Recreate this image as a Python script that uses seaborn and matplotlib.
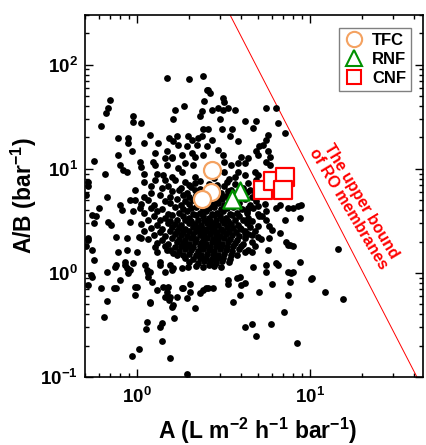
import numpy as np
import pandas as pd
import matplotlib
matplotlib.use("Agg")
import matplotlib.pyplot as plt
import seaborn as sns
from matplotlib.lines import Line2D
from matplotlib.ticker import LogLocator, FuncFormatter, NullFormatter

sns.set_style("ticks")
plt.rcParams["font.family"] = ["Liberation Sans", "DejaVu Sans"]
plt.rcParams["mathtext.fontset"] = "custom"
plt.rcParams["mathtext.rm"] = "Liberation Sans:bold"
plt.rcParams["mathtext.bf"] = "Liberation Sans:bold"
plt.rcParams["mathtext.it"] = "Liberation Sans:bold"
plt.rcParams["mathtext.default"] = "bf"
plt.rcParams["text.color"] = "black"
plt.rcParams["axes.labelcolor"] = "black"
plt.rcParams["xtick.color"] = "black"
plt.rcParams["ytick.color"] = "black"

# ---------------- data (A in L m-2 h-1 bar-1, A/B in bar-1) ----------------
upper_pts = [(1.48, 75), (2.0, 73), (2.4, 78), (2.53, 57), (2.45, 45), (0.70, 46), (0.68, 38), (0.66, 34),
             (1.66, 37), (1.88, 40), (1.62, 30), (0.95, 32), (0.95, 28), (0.62, 26), (2.36, 35.5), (2.3, 32),
             (2.42, 24), (1.19, 21), (0.78, 19.7), (0.89, 19.7), (0.89, 17.7), (1.09, 17.7), (1.33, 17.7),
             (1.52, 19.7), (1.70, 20.5), (1.62, 18.3), (1.73, 17), (1.98, 20.5), (2.07, 19), (2.26, 19.7),
             (2.36, 20.5), (1.94, 16.4), (2.21, 17), (0.78, 13.6), (0.93, 14.7), (1.27, 14.2), (1.48, 14.7),
             (1.59, 13.1), (1.45, 12.7), (1.81, 13.6), (2.07, 14.2), (2.16, 13.1), (2.42, 13.6), (0.56, 11.9),
             (0.80, 10.9), (0.83, 9.8), (1.04, 11.7), (1.06, 10.5), (1.24, 11.7), (1.27, 10.9), (1.48, 10.9),
             (1.59, 12.7), (1.73, 10.2), (1.81, 9.4), (1.89, 11.3), (2.11, 10.9), (0.65, 9.0), (0.87, 9.4),
             (1.09, 8.9), (1.30, 8.9), (1.42, 8.7), (2.16, 8.4), (0.52, 7.4), (1.06, 27.5)]

right_pts = [(2.58, 57), (2.64, 53), (3.15, 48), (3.2, 44), (2.70, 37), (2.95, 38), (3.15, 37), (3.37, 38),
             (3.68, 37), (3.02, 30), (5.6, 38), (6.4, 38), (4.2, 28.5), (4.9, 28.5), (4.7, 24.6), (6.5, 27.5),
             (2.58, 24), (3.09, 24), (3.52, 24), (3.45, 20.5), (7.2, 22), (5.75, 21), (5.6, 19), (5.35, 17),
             (5.1, 16.4), (2.7, 19), (2.53, 16.4), (3.85, 18.3), (5.75, 14.7), (5.9, 13.1), (5.6, 11.7),
             (5.9, 10.9), (4.9, 14.7), (5.0, 13.6), (4.0, 13.1), (4.4, 12.7), (3.85, 11.3), (4.2, 11.3),
             (2.95, 15), (3.15, 13.6), (3.2, 11.7), (3.5, 10.9), (4.8, 9.4), (5.0, 8.7), (3.85, 9.4),
             (4.2, 8.7), (3.7, 8.4), (3.2, 9.4)]

band_pts = [(1.09, 7.5), (1.27, 7.8), (1.45, 7.8), (1.66, 7.8), (1.89, 7.5), (2.16, 7.3), (1.2, 6.8),
            (1.5, 6.9), (1.8, 6.6), (2.0, 7.0), (2.3, 7.6), (2.6, 7.2), (2.9, 7.0), (3.3, 7.4), (3.7, 7.1),
            (4.4, 7.3), (4.9, 7.8), (5.4, 7.0), (2.8, 8.2), (3.4, 8.0), (1.6, 8.4)]

mid_right_pts = [(4.4, 4.2), (4.3, 3.75), (5.0, 4.35), (5.1, 3.5), (5.6, 3.9), (6.4, 4.2), (6.7, 4.5),
                 (7.5, 4.2), (8.0, 4.2), (8.5, 4.35), (8.9, 4.5), (8.7, 3.35), (7.2, 3.2), (3.95, 2.7),
                 (4.2, 2.4), (5.0, 2.8), (5.8, 2.8), (6.0, 2.6), (4.6, 2.3), (5.0, 2.2), (6.7, 2.4),
                 (5.8, 2.15), (7.3, 2.0), (7.65, 1.86), (8.0, 1.8), (4.8, 1.8), (4.6, 1.6), (4.2, 1.6),
                 (5.75, 1.66), (6.4, 1.24), (6.5, 1.19), (5.6, 1.19), (5.6, 1.03), (4.7, 1.15), (7.5, 1.03),
                 (8.0, 1.03), (8.7, 1.28), (10.2, 0.89), (7.8, 1.0), (7.5, 1.86), (14.5, 1.69)]

low_pts = [(0.52, 0.77), (0.62, 0.72), (0.74, 0.72), (0.80, 0.86), (0.67, 0.54), (0.64, 0.38), (0.55, 0.92),
           (0.97, 0.74), (0.97, 0.62), (1.16, 0.92), (1.22, 0.82), (1.30, 0.69), (1.19, 0.51), (1.42, 0.74),
           (1.50, 0.74), (1.45, 0.59), (1.52, 0.55), (1.59, 0.47), (1.70, 0.59), (1.85, 0.71), (2.03, 0.78),
           (1.94, 0.58), (2.16, 0.46), (2.3, 0.64), (2.42, 0.69), (2.5, 0.71), (1.64, 0.37), (1.14, 0.34),
           (1.13, 0.29), (1.39, 0.33), (1.36, 0.30), (1.39, 0.22), (1.03, 0.186), (0.93, 0.16), (1.55, 0.153),
           (1.94, 0.106), (2.75, 0.71), (3.37, 0.86), (3.37, 0.78), (3.77, 0.89), (3.95, 0.92), (4.0, 0.77),
           (4.2, 0.80), (3.95, 0.61), (3.6, 0.53), (5.1, 0.65), (6.0, 0.78), (7.65, 0.82), (7.5, 0.62),
           (10.1, 0.88), (12.2, 0.66), (7.1, 0.42), (4.2, 0.30), (4.6, 0.32), (5.95, 0.32), (4.9, 0.25),
           (8.4, 0.21), (15.6, 0.56), (0.52, 2.07), (0.55, 1.66), (0.56, 1.33), (0.54, 0.96), (0.67, 1.03),
           (0.75, 1.15), (0.76, 0.71), (0.85, 1.28), (0.87, 1.11), (0.89, 0.99), (0.95, 1.24), (1.0, 1.6),
           (1.0, 0.74), (1.14, 1.07), (1.16, 1.0), (1.19, 0.52), (1.48, 0.66), (1.55, 0.59), (1.62, 0.49),
           (1.81, 0.71), (2.02, 0.66), (2.58, 0.71), (1.36, 1.28), (1.55, 1.19), (1.62, 1.11), (1.81, 1.11),
           (1.98, 1.15), (1.27, 1.79), (1.30, 1.6), (1.48, 1.66), (1.62, 1.55)]

left_pts = [(0.52, 6.8), (0.51, 5.6), (0.67, 5.4), (0.60, 4.2), (0.55, 3.6), (0.58, 3.5), (0.56, 3.0),
            (0.52, 2.15), (0.51, 1.8), (0.68, 3.1), (0.71, 2.9), (0.76, 2.2), (0.87, 2.15), (0.78, 1.6),
            (0.87, 1.66), (0.76, 1.19), (0.85, 1.19), (0.91, 1.07), (0.97, 5.0), (0.91, 5.0), (0.80, 4.5),
            (0.82, 4.0), (0.95, 3.9), (1.04, 4.2), (0.91, 3.1), (0.97, 6.3), (1.06, 2.15), (1.02, 2.2),
            (1.11, 1.19), (1.19, 1.03), (1.36, 1.19), (1.45, 1.03), (1.59, 1.07)]

core_pts = [(1.4, 6.6), (1.75, 6.3), (2.05, 6.7), (2.3, 6.4), (2.9, 6.5), (3.2, 6.8), (3.5, 6.3), (4.1, 6.6), (4.5, 6.2),
            (1.2, 5.9), (1.6, 6.1), (1.95, 5.8), (2.15, 6.2), (2.55, 6.0), (3.05, 5.9), (3.35, 6.1), (3.8, 5.8), (4.3, 6.0), (4.8, 5.9),
            (1.1, 5.4), (1.35, 5.6), (1.55, 5.3), (1.85, 5.6), (2.0, 5.4), (2.2, 5.6), (2.45, 5.3), (2.75, 5.6), (3.0, 5.4),
            (3.25, 5.5), (3.6, 5.3), (4.0, 5.6), (4.6, 5.4), (5.2, 5.5),
            (1.15, 5.0), (1.45, 4.9), (1.7, 5.1), (1.9, 4.9), (2.1, 5.0), (2.3, 5.1), (2.6, 4.9), (2.85, 5.0), (3.1, 5.1),
            (3.4, 4.9), (3.7, 5.0), (4.2, 5.1), (4.9, 4.9),
            (1.05, 4.6), (1.25, 4.5), (1.55, 4.7), (1.8, 4.5), (2.0, 4.6), (2.25, 4.7), (2.45, 4.5), (2.7, 4.6), (2.95, 4.7),
            (3.2, 4.5), (3.5, 4.6), (3.9, 4.7), (4.5, 4.5), (5.5, 4.6),
            (1.2, 4.2), (1.4, 4.1), (1.65, 4.3), (1.85, 4.1), (2.05, 4.2), (2.2, 4.3), (2.4, 4.1), (2.6, 4.2), (2.8, 4.3),
            (3.05, 4.1), (3.3, 4.2), (3.6, 4.3), (4.05, 4.1), (4.7, 4.2),
            (1.1, 3.8), (1.3, 3.9), (1.5, 3.7), (1.75, 3.8), (1.95, 3.9), (2.1, 3.7), (2.3, 3.8), (2.5, 3.9), (2.7, 3.7),
            (2.9, 3.8), (3.15, 3.9), (3.45, 3.7), (3.8, 3.8), (4.3, 3.9), (5.0, 3.7),
            (1.25, 3.5), (1.45, 3.4), (1.6, 3.6), (1.85, 3.5), (2.0, 3.4), (2.2, 3.6), (2.4, 3.5), (2.6, 3.4), (2.8, 3.6),
            (3.0, 3.5), (3.25, 3.4), (3.55, 3.6), (3.9, 3.5), (4.4, 3.4), (5.3, 3.5),
            (1.15, 3.2), (1.35, 3.25), (1.55, 3.15), (1.7, 3.2), (1.9, 3.25), (2.05, 3.15), (2.25, 3.2), (2.45, 3.25),
            (2.65, 3.15), (2.85, 3.2), (3.1, 3.25), (3.35, 3.15), (3.7, 3.2), (4.1, 3.25), (4.6, 3.15), (5.6, 3.2),
            (1.05, 2.95), (1.3, 2.9), (1.5, 3.0), (1.65, 2.95), (1.8, 2.9), (2.0, 3.0), (2.15, 2.95), (2.35, 2.9),
            (2.55, 3.0), (2.75, 2.95), (2.95, 2.9), (3.2, 3.0), (3.5, 2.95), (3.85, 2.9), (4.3, 3.0),
            (1.2, 2.7), (1.4, 2.65), (1.6, 2.75), (1.75, 2.7), (1.9, 2.65), (2.1, 2.75), (2.25, 2.7), (2.45, 2.65),
            (2.6, 2.75), (2.8, 2.7), (3.05, 2.65), (3.3, 2.75), (3.6, 2.7), (4.0, 2.65), (4.5, 2.75),
            (1.1, 2.5), (1.35, 2.45), (1.55, 2.55), (1.7, 2.5), (1.85, 2.45), (2.0, 2.55), (2.2, 2.5), (2.35, 2.45),
            (2.5, 2.55), (2.7, 2.5), (2.9, 2.45), (3.15, 2.55), (3.4, 2.5), (3.75, 2.45), (4.2, 2.55), (4.8, 2.5),
            (1.25, 2.3), (1.45, 2.25), (1.65, 2.35), (1.8, 2.3), (1.95, 2.25), (2.1, 2.35), (2.3, 2.3), (2.45, 2.25),
            (2.65, 2.35), (2.85, 2.3), (3.0, 2.25), (3.25, 2.35), (3.55, 2.3), (3.9, 2.25), (4.4, 2.35),
            (1.15, 2.1), (1.4, 2.05), (1.6, 2.15), (1.75, 2.1), (1.9, 2.05), (2.05, 2.15), (2.2, 2.1), (2.4, 2.05),
            (2.55, 2.15), (2.75, 2.1), (2.95, 2.05), (3.2, 2.15), (3.45, 2.1), (3.8, 2.05), (4.2, 2.15), (5.2, 2.1),
            (1.3, 1.95), (1.5, 1.9), (1.7, 2.0), (1.85, 1.95), (2.0, 1.9), (2.15, 2.0), (2.35, 1.95), (2.5, 1.9),
            (2.7, 2.0), (2.9, 1.95), (3.1, 1.9), (3.35, 2.0), (3.7, 1.95), (4.1, 1.9), (4.6, 2.0),
            (1.45, 1.8), (1.65, 1.78), (1.8, 1.83), (1.95, 1.8), (2.1, 1.78), (2.3, 1.83), (2.45, 1.8), (2.65, 1.78),
            (2.85, 1.83), (3.05, 1.8), (3.3, 1.78), (3.6, 1.83), (4.0, 1.8),
            (1.55, 1.65), (1.75, 1.63), (1.9, 1.68), (2.05, 1.65), (2.25, 1.63), (2.4, 1.68), (2.6, 1.65), (2.8, 1.63),
            (3.0, 1.68), (3.25, 1.65), (3.55, 1.63), (3.9, 1.68), (4.4, 1.65),
            (1.7, 1.5), (1.85, 1.48), (2.0, 1.53), (2.2, 1.5), (2.35, 1.48), (2.55, 1.53), (2.75, 1.5), (2.95, 1.48),
            (3.2, 1.53), (3.5, 1.5), (3.8, 1.48),
            (1.9, 1.38), (2.1, 1.36), (2.3, 1.4), (2.5, 1.38), (2.7, 1.36), (2.9, 1.4), (3.15, 1.38), (3.45, 1.36),
            (2.0, 1.27), (2.25, 1.25), (2.45, 1.29), (2.65, 1.27), (2.85, 1.25), (3.1, 1.29), (3.4, 1.27),
            (2.2, 1.17), (2.4, 1.15), (2.6, 1.19), (2.8, 1.17), (3.05, 1.15)]

tfc_A = [2.70, 2.67, 2.37]
tfc_AB = [9.8, 6.05, 5.1]
rnf_A = [3.94, 3.53]
rnf_AB = [6.1, 5.1]
cnf_A = [5.33, 6.13, 7.17, 7.0]
cnf_AB = [6.2, 7.55, 8.3, 6.3]

bound_A = [3.45, 41.5]
bound_AB = [300, 0.1]

x_ticks = [1, 10]
y_ticks = [0.1, 1, 10, 100]

# ---------------- figure ----------------
lit = pd.DataFrame(upper_pts + right_pts + band_pts + mid_right_pts + low_pts + left_pts + core_pts,
                   columns=["A", "AB"])

fig = plt.figure(figsize=(4.27, 4.45), dpi=100)
ax = fig.add_axes([85 / 427, 1 - 377 / 445, (423 - 85) / 427, (377 - 15) / 445])
ax.set_xscale("log")
ax.set_yscale("log")

sns.scatterplot(data=lit, x="A", y="AB", color="black", s=24, linewidth=0, ax=ax, legend=False, zorder=2)
ax.plot(bound_A, bound_AB, color="red", lw=0.7, zorder=1)

sns.scatterplot(x=tfc_A, y=tfc_AB, marker="o", s=150, color="white", edgecolor="#F4A261",
                linewidth=1.6, ax=ax, legend=False, zorder=4)
sns.scatterplot(x=rnf_A, y=rnf_AB, marker="^", s=170, color="white", edgecolor="#009000",
                linewidth=1.6, ax=ax, legend=False, zorder=4)
sns.scatterplot(x=cnf_A, y=cnf_AB, marker="s", s=150, color="white", edgecolor="#FF0000",
                linewidth=1.6, ax=ax, legend=False, zorder=4)

ax.set_xlim(0.5, 45)
ax.set_ylim(0.1, 300)
ax.set_xticks(x_ticks)
ax.set_yticks(y_ticks)
ax.xaxis.set_minor_locator(LogLocator(base=10, subs=np.arange(2, 10)))
ax.yaxis.set_minor_locator(LogLocator(base=10, subs=np.arange(2, 10)))
fmt = FuncFormatter(lambda v, p: r"$\mathbf{10^{%d}}$" % int(round(np.log10(v))))
ax.xaxis.set_major_formatter(fmt)
ax.yaxis.set_major_formatter(fmt)
ax.xaxis.set_minor_formatter(NullFormatter())
ax.yaxis.set_minor_formatter(NullFormatter())
ax.tick_params(which="both", direction="in", top=True, right=True, width=1.0, labelsize=13.5)
ax.tick_params(which="major", length=6)
ax.tick_params(which="minor", length=3)
ax.tick_params(axis="x", pad=7)
ax.tick_params(axis="y", pad=5)
for sp in ax.spines.values():
    sp.set_linewidth(1.2)
    sp.set_color("black")

ax.set_xlabel(r"A (L m$^{-2}$ h$^{-1}$ bar$^{-1}$)", fontsize=16.5, fontweight="bold")
ax.set_ylabel(r"A/B (bar$^{-1}$)", fontsize=16.5, fontweight="bold")
ax.xaxis.set_label_coords(0.51, -0.108)
ax.yaxis.set_label_coords(-0.135, 0.5)

ax.text(18.2, 4.5, "The upper bound\nof RO membranes", color="red", fontsize=11.5, fontweight="bold",
        rotation=-59, rotation_mode="anchor", ha="center", va="center", linespacing=0.95, zorder=3)

handles = [
    Line2D([], [], marker="o", ls="none", markersize=11, markerfacecolor="white",
           markeredgecolor="#F4A261", markeredgewidth=1.5, label="TFC"),
    Line2D([], [], marker="^", ls="none", markersize=12, markerfacecolor="white",
           markeredgecolor="#009000", markeredgewidth=1.5, label="RNF"),
    Line2D([], [], marker="s", ls="none", markersize=10, markerfacecolor="white",
           markeredgecolor="#FF0000", markeredgewidth=1.5, label="CNF"),
]
leg = ax.legend(handles=handles, loc="upper right", bbox_to_anchor=(0.965, 0.965), frameon=True,
                fancybox=False, edgecolor="#808080", framealpha=1, prop={"weight": "bold", "size": 12},
                handletextpad=0.5, borderpad=0.3, labelspacing=0.25, handlelength=1.2, borderaxespad=0)
leg.get_frame().set_linewidth(1.0)

fig.savefig("out.png", dpi=100)
